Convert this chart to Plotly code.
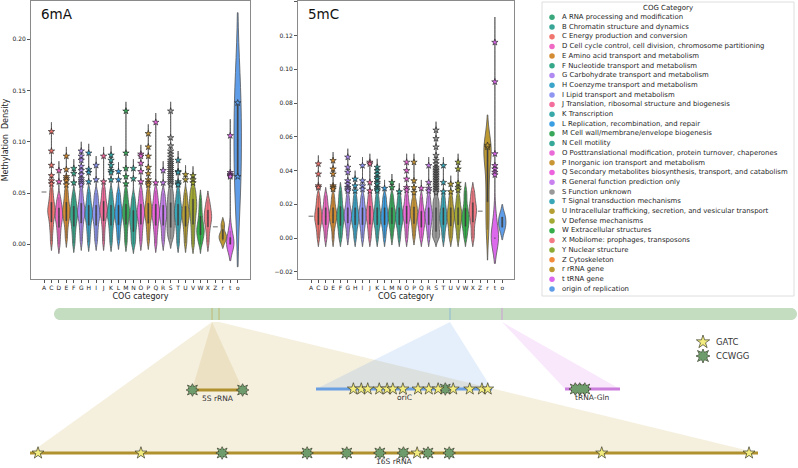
import plotly.graph_objects as go
import numpy as np

# ---------------------------------------------------------------- data
CATEGORIES = ["A", "C", "D", "E", "F", "G", "H", "I", "J", "K", "L", "M", "N", "O",
              "P", "Q", "R", "S", "T", "U", "V", "W", "X", "Z", "r", "t", "o"]

# 6mA: bulk of the distribution (kde sample) per category
BODY_6MA = [
    [0.051],
    [0.003, 0.012, 0.018, 0.023, 0.027, 0.030, 0.032, 0.034, 0.037, 0.040, 0.044, 0.049, 0.055],
    [0.0, 0.008, 0.014, 0.019, 0.023, 0.026, 0.028, 0.031, 0.034, 0.037, 0.041, 0.046],
    [0.006, 0.014, 0.020, 0.024, 0.027, 0.030, 0.032, 0.034, 0.037, 0.040, 0.044, 0.049, 0.054],
    [0.001, 0.009, 0.015, 0.020, 0.024, 0.027, 0.029, 0.032, 0.035, 0.039, 0.043, 0.049],
    [0.003, 0.011, 0.017, 0.022, 0.026, 0.029, 0.031, 0.033, 0.036, 0.039, 0.043, 0.048, 0.054],
    [0.002, 0.010, 0.016, 0.021, 0.025, 0.028, 0.030, 0.033, 0.036, 0.040, 0.045, 0.051],
    [0.003, 0.010, 0.016, 0.021, 0.025, 0.028, 0.030, 0.033, 0.036, 0.040, 0.045, 0.050],
    [0.003, 0.012, 0.019, 0.024, 0.028, 0.031, 0.033, 0.035, 0.038, 0.041, 0.045, 0.050, 0.055],
    [0.002, 0.010, 0.016, 0.021, 0.025, 0.028, 0.030, 0.033, 0.036, 0.040, 0.045, 0.051],
    [0.004, 0.011, 0.017, 0.021, 0.025, 0.028, 0.030, 0.033, 0.036, 0.040, 0.045, 0.050],
    [0.002, 0.010, 0.017, 0.022, 0.026, 0.029, 0.031, 0.034, 0.037, 0.041, 0.046, 0.052],
    [0.0, 0.005, 0.010, 0.015, 0.019, 0.022, 0.025, 0.028, 0.031, 0.035, 0.040, 0.046],
    [0.003, 0.011, 0.017, 0.022, 0.026, 0.029, 0.031, 0.034, 0.037, 0.041, 0.046, 0.052],
    [0.004, 0.012, 0.018, 0.023, 0.027, 0.030, 0.032, 0.035, 0.038, 0.042, 0.047, 0.053],
    [0.001, 0.010, 0.016, 0.021, 0.025, 0.028, 0.031, 0.034, 0.037, 0.041, 0.046, 0.052],
    [0.003, 0.010, 0.016, 0.021, 0.025, 0.028, 0.030, 0.033, 0.036, 0.040, 0.045, 0.050],
    [0.005, 0.008, 0.012, 0.015, 0.018, 0.021, 0.024, 0.027, 0.030, 0.033, 0.036, 0.039,
     0.042, 0.046, 0.050, 0.054],
    [0.001, 0.009, 0.016, 0.021, 0.025, 0.028, 0.031, 0.034, 0.037, 0.041, 0.046, 0.052],
    [0.001, 0.009, 0.015, 0.020, 0.024, 0.027, 0.029, 0.032, 0.035, 0.039, 0.044, 0.050],
    [0.0, 0.008, 0.015, 0.021, 0.026, 0.030, 0.034, 0.037, 0.040, 0.043, 0.047, 0.051, 0.055],
    [0.0, 0.004, 0.007, 0.010, 0.012, 0.014, 0.016, 0.019, 0.022, 0.026, 0.031, 0.037, 0.044],
    [0.002, 0.010, 0.016, 0.020, 0.023, 0.026, 0.028, 0.031, 0.034, 0.038, 0.043],
    [0.017],
    [0.003, 0.007, 0.010, 0.019],
    [0.0, 0.0, 0.0, 0.0, 0.0, 0.0, 0.013, 0.013],
    [0.066, 0.138],
]
# 6mA: highlighted genes (star markers)
STARS_6MA = [
    [],
    [0.110, 0.091, 0.077, 0.067, 0.062, 0.059],
    [0.072, 0.061],
    [0.086, 0.073, 0.066, 0.064, 0.062, 0.058],
    [0.074, 0.069, 0.060],
    [0.091, 0.086, 0.082, 0.076, 0.072, 0.068, 0.064, 0.062, 0.060, 0.058],
    [0.089, 0.073, 0.070, 0.061],
    [0.077, 0.063],
    [0.086, 0.061],
    [0.087, 0.082, 0.077, 0.072, 0.070, 0.063],
    [0.071, 0.063],
    [0.130, 0.089, 0.074, 0.066, 0.059],
    [0.074, 0.064],
    [0.088, 0.086, 0.079, 0.071, 0.061],
    [0.108, 0.095, 0.086, 0.075, 0.069, 0.063, 0.060, 0.058],
    [0.119, 0.060],
    [0.072, 0.060],
    [0.130, 0.104, 0.096, 0.091, 0.088, 0.085, 0.082, 0.080, 0.078, 0.076, 0.074, 0.072,
     0.070, 0.068, 0.066, 0.064, 0.062, 0.060, 0.058],
    [0.082, 0.071, 0.070, 0.061, 0.059, 0.058],
    [0.068, 0.063],
    [0.067, 0.063, 0.060],
    [],
    [],
    [],
    [],
    [0.106, 0.070, 0.068, 0.067, 0.066],
    [0.066, 0.138],
]

BODY_5MC = [
    [0.013],
    [0.0, 0.004, 0.007, 0.009, 0.011, 0.012, 0.0135, 0.015, 0.017, 0.019, 0.022, 0.025],
    [0.0, 0.004, 0.007, 0.009, 0.0105, 0.012, 0.0135, 0.015, 0.017, 0.019, 0.022, 0.025],
    [0.0, 0.005, 0.008, 0.010, 0.0115, 0.013, 0.014, 0.0155, 0.017, 0.019, 0.022, 0.025],
    [0.0, 0.003, 0.006, 0.008, 0.010, 0.0115, 0.013, 0.0145, 0.016, 0.018, 0.021, 0.024, 0.028],
    [0.001, 0.005, 0.008, 0.010, 0.0115, 0.013, 0.014, 0.0155, 0.017, 0.019, 0.022, 0.025],
    [0.0, 0.004, 0.007, 0.009, 0.0105, 0.012, 0.0135, 0.015, 0.017, 0.019, 0.022, 0.025],
    [0.0, 0.004, 0.007, 0.009, 0.011, 0.0125, 0.014, 0.0155, 0.017, 0.019, 0.022, 0.025],
    [0.0, 0.004, 0.007, 0.0095, 0.0115, 0.013, 0.0145, 0.016, 0.018, 0.020, 0.023, 0.026],
    [0.0, 0.004, 0.007, 0.009, 0.0105, 0.012, 0.0135, 0.015, 0.017, 0.019, 0.022, 0.025],
    [0.0, 0.004, 0.007, 0.009, 0.0105, 0.012, 0.0135, 0.015, 0.017, 0.019, 0.022, 0.025],
    [0.001, 0.005, 0.0075, 0.0095, 0.011, 0.0125, 0.014, 0.0155, 0.017, 0.019, 0.022, 0.025],
    [0.0, 0.004, 0.007, 0.009, 0.0105, 0.012, 0.0135, 0.015, 0.017, 0.019, 0.022, 0.025],
    [0.0, 0.004, 0.0075, 0.010, 0.012, 0.0135, 0.015, 0.0165, 0.018, 0.020, 0.023, 0.026],
    [0.001, 0.005, 0.008, 0.0105, 0.0125, 0.014, 0.0155, 0.017, 0.019, 0.021, 0.024],
    [0.0, 0.003, 0.0055, 0.0075, 0.009, 0.0105, 0.012, 0.0135, 0.015, 0.017, 0.020, 0.024],
    [0.0, 0.004, 0.007, 0.009, 0.011, 0.0125, 0.014, 0.0155, 0.017, 0.019, 0.022, 0.025],
    [0.0, 0.001, 0.002, 0.004, 0.006, 0.008, 0.010, 0.012, 0.014, 0.016, 0.018, 0.020, 0.022, 0.024],
    [0.0, 0.004, 0.007, 0.009, 0.0105, 0.012, 0.0135, 0.015, 0.017, 0.019, 0.022, 0.025],
    [0.0, 0.003, 0.006, 0.0085, 0.0105, 0.012, 0.0135, 0.015, 0.017, 0.019, 0.022, 0.025],
    [0.0, 0.004, 0.007, 0.009, 0.011, 0.0125, 0.014, 0.0155, 0.017, 0.019, 0.022, 0.025],
    [0.0, 0.003, 0.0055, 0.0075, 0.009, 0.0105, 0.012, 0.0135, 0.015, 0.017, 0.020, 0.024, 0.028],
    [0.0, 0.004, 0.008, 0.011, 0.013, 0.015, 0.0165, 0.018, 0.020, 0.022, 0.025, 0.028],
    [0.016],
    [0.005, 0.018, 0.032, 0.046, 0.052, 0.054, 0.055],
    [0.0, 0.0, 0.0, 0.0, 0.0, 0.0, 0.0, 0.0, 0.013, 0.013],
    [0.0065, 0.0125],
]
STARS_5MC = [
    [],
    [0.044, 0.038, 0.031, 0.030],
    [],
    [0.046, 0.041, 0.038, 0.031, 0.030, 0.029],
    [],
    [0.048, 0.042, 0.039, 0.034, 0.032, 0.030, 0.029, 0.028],
    [0.035, 0.031, 0.028],
    [0.043, 0.034, 0.031, 0.029],
    [0.045, 0.044, 0.033, 0.028],
    [0.042, 0.040, 0.038, 0.036, 0.035, 0.033, 0.032, 0.030, 0.029, 0.028],
    [0.0295],
    [0.033, 0.030],
    [0.0275],
    [0.045, 0.040, 0.035, 0.030, 0.0285],
    [0.045, 0.034, 0.030, 0.027],
    [0.0295],
    [0.043, 0.033, 0.0295, 0.028],
    [0.064, 0.059, 0.054, 0.049, 0.046, 0.044, 0.042, 0.041, 0.040, 0.039, 0.038, 0.037,
     0.036, 0.035, 0.034, 0.033, 0.032, 0.031, 0.030, 0.029, 0.028, 0.027],
    [0.043, 0.033, 0.0275],
    [0.032, 0.0275],
    [0.045, 0.041, 0.0325, 0.030, 0.0285],
    [],
    [],
    [],
    [0.054, 0.055],
    [0.116, 0.0926, 0.050, 0.043, 0.041, 0.039, 0.0375],
    [],
]

LEGEND_LABELS = [
    "A RNA processing and modification",
    "B Chromatin structure and dynamics",
    "C Energy production and conversion",
    "D Cell cycle control, cell division, chromosome partitioning",
    "E Amino acid transport and metabolism",
    "F Nucleotide transport and metabolism",
    "G Carbohydrate transport and metabolism",
    "H Coenzyme transport and metabolism",
    "I Lipid transport and metabolism",
    "J Translation, ribosomal structure and biogenesis",
    "K Transcription",
    "L Replication, recombination, and repair",
    "M Cell wall/membrane/envelope biogenesis",
    "N Cell motility",
    "O Posttranslational modification, protein turnover, chaperones",
    "P Inorganic ion transport and metabolism",
    "Q Secondary metabolites biosynthesis, transport, and catabolism",
    "R General function prediction only",
    "S Function unknown",
    "T Signal transduction mechanisms",
    "U Intracellular trafficking, secretion, and vesicular transport",
    "V Defense mechanisms",
    "W Extracellular structures",
    "X Mobilome: prophages, transposons",
    "Y Nuclear structure",
    "Z Cytoskeleton",
    "r rRNA gene",
    "t tRNA gene",
    "origin of replication",
]
LEGEND_COLORS = [
    "#3aa87c", "#39a596", "#f0756f", "#f06ac4", "#d38b34", "#36a88a", "#b08af2",
    "#3aa5c8", "#8e96f2", "#f36d9d", "#38a8a8", "#3a9fe2", "#38a95a", "#36a897",
    "#ea6ad8", "#c99636", "#ed62dd", "#c981f0", "#999999", "#39a7b7", "#b59e33",
    "#a2a934", "#34ad4a", "#f37b86", "#8cab36", "#f38b3c", "#be9a33", "#dc68ec",
    "#5f9de8",
]

# genome schematic
FEATURES = ["5S rRNA", "16S rRNA", "oriC", "tRNA-Gln"]
FEATURE_CODE = ["r", "r", "o", "t"]
FEATURE_LEN_BP = [120, 1542, 245, 75]
FEATURE_CHROM_START = [0.2127, 0.2127, 0.533, 0.603]   # fraction of chromosome
FEATURE_CHROM_END = [0.2127, 0.2221, 0.533, 0.603]
GATC_SITES = [
    [],
    [17, 235, 820, 1211, 1523],
    [52, 63, 72, 88, 99, 107, 121, 142, 157, 170, 191, 214, 231, 239],
    [],
]
CCWGG_SITES = [
    [1, 119],
    [407, 587, 671, 741, 791, 843, 888],
    [180],
    [14, 20, 27],
]

# ---------------------------------------------------------------- style / layout
W, H = 798, 468
FONT = "DejaVu Sans"
EDGE = "#555555"
BW_6MA, BW_6MA_OVR = 0.0045, {"r": 0.0035, "t": 0.008, "o": 0.044}
BW_5MC, BW_5MC_OVR = 0.0025, {"r": 0.009, "t": 0.0075, "o": 0.0037}

code_color = {}
for lab, col in zip(LEGEND_LABELS, LEGEND_COLORS):
    first = lab.split()[0]
    code_color[first if len(first) == 1 else "o"] = col

fig = go.Figure()


def add_panel(body, stars, xa, ya, bw_def, bw_ovr):
    for i, cat in enumerate(CATEGORIES):
        b, s, col = body[i], stars[i], code_color[cat]
        if len(b) == 1 and not s:
            fig.add_trace(go.Scatter(x=[i - 0.33, i + 0.33], y=[b[0], b[0]], mode="lines",
                                     line=dict(color="#444444", width=0.8),
                                     xaxis=xa, yaxis=ya, hoverinfo="skip", showlegend=False))
            continue
        bw = bw_ovr.get(cat, bw_def)
        allv = b + s
        lo, hi = min(allv) - 2 * bw, max(allv) + 2 * bw
        fig.add_trace(go.Violin(
            x=[i] * len(b), y=b, bandwidth=bw, spanmode="manual", span=[lo, hi],
            scalemode="width", width=1.0, fillcolor=col, opacity=1,
            line=dict(color=EDGE, width=0.8), points=False,
            box=dict(visible=True, width=0.16, fillcolor="#404040",
                     line=dict(color="#404040", width=0.4)),
            meanline=dict(visible=False),
            xaxis=xa, yaxis=ya, hoverinfo="skip", showlegend=False))
        if s:
            fig.add_trace(go.Scatter(
                x=[i] * len(s), y=s, mode="markers",
                marker=dict(symbol="star", size=4.8, color=col,
                            line=dict(color="#1e1e1e", width=0.6)),
                xaxis=xa, yaxis=ya, hoverinfo="skip", showlegend=False))


add_panel(BODY_6MA, STARS_6MA, "x", "y", BW_6MA, BW_6MA_OVR)
add_panel(BODY_5MC, STARS_5MC, "x2", "y2", BW_5MC, BW_5MC_OVR)

# ---------------------------------------------------------------- overlay (pixel space)
shapes = []
annotations = []

# COG legend
LEG_X0, LEG_X1, LEG_Y0, LEG_Y1 = 542, 794, 2, 296
ROW0, ROW_H = 17.3, 9.7
shapes.append(dict(type="rect", xref="x3", yref="y3", x0=LEG_X0, x1=LEG_X1, y0=LEG_Y0, y1=LEG_Y1,
                   line=dict(color="#d6d6d6", width=0.8), fillcolor="white", layer="below"))
ly = [ROW0 + k * ROW_H for k in range(len(LEGEND_LABELS))]
fig.add_trace(go.Scatter(x=[552] * len(ly), y=ly, mode="markers",
                         marker=dict(symbol="circle", size=5.5, color=LEGEND_COLORS, line=dict(width=0)),
                         xaxis="x3", yaxis="y3", hoverinfo="skip", showlegend=False))
fig.add_trace(go.Scatter(x=[562] * len(ly), y=ly, mode="text", text=LEGEND_LABELS,
                         textposition="middle right",
                         textfont=dict(family=FONT, size=6.9, color="#262626"),
                         xaxis="x3", yaxis="y3", hoverinfo="skip", showlegend=False))
annotations.append(dict(xref="x3", yref="y3", x=(LEG_X0 + LEG_X1) / 2, y=8, text="COG Category",
                        showarrow=False, font=dict(family=FONT, size=7, color="#262626")))

# panel labels
annotations.append(dict(xref="x3", yref="y3", x=39, y=14, xanchor="left", text="6mA", showarrow=False,
                        font=dict(family=FONT, size=13.5, color="#111")))
annotations.append(dict(xref="x3", yref="y3", x=306, y=14, xanchor="left", text="5mC", showarrow=False,
                        font=dict(family=FONT, size=13.5, color="#111")))

# chromosome
CX0, CX1, CY, CH = 54, 797, 314, 12
r = CH / 2
k = 0.5523 * r
path = (f"M {CX0 + r},{CY - r} L {CX1 - r},{CY - r} "
        f"C {CX1 - r + k},{CY - r} {CX1},{CY - k} {CX1},{CY} "
        f"C {CX1},{CY + k} {CX1 - r + k},{CY + r} {CX1 - r},{CY + r} "
        f"L {CX0 + r},{CY + r} "
        f"C {CX0 + r - k},{CY + r} {CX0},{CY + k} {CX0},{CY} "
        f"C {CX0},{CY - k} {CX0 + r - k},{CY - r} {CX0 + r},{CY - r} Z")

ZOOM_X = [(192, 243), (30, 758), (316, 492), (565, 620)]
ZOOM_Y = [390, 453, 389, 389]
FAN_TOP = CY + r + 2


def chrom_px(f):
    return CX0 + f * (CX1 - CX0)


def hex_rgba(h, a):
    h = h.lstrip("#")
    return f"rgba({int(h[0:2], 16)},{int(h[2:4], 16)},{int(h[4:6], 16)},{a})"


# fans (big 16S first)
for j in [1, 0, 2, 3]:
    col = code_color[FEATURE_CODE[j]]
    a0, a1 = chrom_px(FEATURE_CHROM_START[j]), chrom_px(FEATURE_CHROM_END[j])
    z0, z1 = ZOOM_X[j]
    zy = ZOOM_Y[j]
    shapes.append(dict(type="path", xref="x3", yref="y3",
                       path=f"M {a0},{FAN_TOP} L {a1},{FAN_TOP} L {z1},{zy} L {z0},{zy} Z",
                       fillcolor=hex_rgba(col, 0.16), line=dict(width=0), layer="below"))

shapes.append(dict(type="path", xref="x3", yref="y3", path=path, fillcolor="#c4dcc0",
                   line=dict(width=0), layer="below"))
marks = set()
for j in range(len(FEATURES)):
    for f in (FEATURE_CHROM_START[j], FEATURE_CHROM_END[j]):
        marks.add((round(chrom_px(f), 2), FEATURE_CODE[j]))
for mx, code in marks:
    shapes.append(dict(type="line", xref="x3", yref="y3", x0=mx, x1=mx, y0=CY - r, y1=CY + r,
                       line=dict(color=hex_rgba(code_color[code], 0.55), width=1), layer="below"))

LINE_COLORS = {"r": "#b0912f", "o": "#6a9fe2", "t": "#cc7fdc"}
GATC_FILL, CCWGG_FILL, SITE_EDGE = "#f3ec7e", "#6f9c6c", "#3c3c2c"


def add_8star(xs, ys, size):
    for sym in ("star-square", "star-diamond"):
        fig.add_trace(go.Scatter(x=xs, y=ys, mode="markers",
                                 marker=dict(symbol=sym, size=size, color=CCWGG_FILL,
                                             line=dict(color=SITE_EDGE, width=0.7)),
                                 xaxis="x3", yaxis="y3", hoverinfo="skip", showlegend=False))
    for sym in ("star-square", "star-diamond"):
        fig.add_trace(go.Scatter(x=xs, y=ys, mode="markers",
                                 marker=dict(symbol=sym, size=size - 1.2, color=CCWGG_FILL,
                                             line=dict(width=0)),
                                 xaxis="x3", yaxis="y3", hoverinfo="skip", showlegend=False))


for j, name in enumerate(FEATURES):
    z0, z1 = ZOOM_X[j]
    zy = ZOOM_Y[j]
    L = FEATURE_LEN_BP[j]
    fig.add_trace(go.Scatter(x=[z0, z1], y=[zy, zy], mode="lines",
                             line=dict(color=LINE_COLORS[FEATURE_CODE[j]], width=3.2),
                             xaxis="x3", yaxis="y3", hoverinfo="skip", showlegend=False))
    gx = [z0 + p / L * (z1 - z0) for p in GATC_SITES[j]]
    cx = [z0 + p / L * (z1 - z0) for p in CCWGG_SITES[j]]
    if cx:
        add_8star(cx, [zy] * len(cx), 9)
    if gx:
        fig.add_trace(go.Scatter(x=gx, y=[zy] * len(gx), mode="markers",
                                 marker=dict(symbol="star", size=9, color=GATC_FILL,
                                             line=dict(color=SITE_EDGE, width=0.7)),
                                 xaxis="x3", yaxis="y3", hoverinfo="skip", showlegend=False))
    annotations.append(dict(xref="x3", yref="y3", x=(z0 + z1) / 2, y=zy + 8.5, text=name,
                            showarrow=False, font=dict(family=FONT, size=7.5, color="#333")))

# site legend
fig.add_trace(go.Scatter(x=[703], y=[342], mode="markers",
                         marker=dict(symbol="star", size=10, color=GATC_FILL,
                                     line=dict(color=SITE_EDGE, width=0.7)),
                         xaxis="x3", yaxis="y3", hoverinfo="skip", showlegend=False))
add_8star([703], [356], 10)
for txt, yy in (("GATC", 342), ("CCWGG", 356)):
    annotations.append(dict(xref="x3", yref="y3", x=714, y=yy, xanchor="left", text=txt,
                            showarrow=False, font=dict(family=FONT, size=8.5, color="#333")))

# ---------------------------------------------------------------- axes
def fy(px):
    return 1 - px / H


common_x = dict(showline=True, mirror=True, linecolor="#8a8a8a", linewidth=1, showgrid=False,
                zeroline=False, ticks="outside", ticklen=3, tickcolor="#555", tickwidth=0.8,
                tickvals=list(range(len(CATEGORIES))), ticktext=CATEGORIES, tickangle=0,
                tickfont=dict(family=FONT, size=6, color="#222"),
                title=dict(text="COG category", font=dict(family=FONT, size=8, color="#222"), standoff=2),
                fixedrange=True)
common_y = dict(showline=True, mirror=True, linecolor="#8a8a8a", linewidth=1, showgrid=False,
                zeroline=False, ticks="outside", ticklen=3, tickcolor="#555", tickwidth=0.8,
                tickfont=dict(family=FONT, size=6, color="#222"), tickformat=".2f", fixedrange=True)

fig.update_layout(
    width=W, height=H, margin=dict(l=0, r=0, t=0, b=0),
    paper_bgcolor="white", plot_bgcolor="rgba(0,0,0,0)",
    violinmode="overlay", showlegend=False,
    font=dict(family=FONT),
    xaxis=dict(common_x, domain=[31 / W, 250 / W], range=[-1.745, 27.65], anchor="y"),
    yaxis=dict(common_y, domain=[fy(279), fy(1)], range=[-0.0339, 0.2374], anchor="x",
               tickvals=[0.0, 0.05, 0.10, 0.15, 0.20],
               title=dict(text="Methylation  Density", font=dict(family=FONT, size=8, color="#222"),
                          standoff=2)),
    xaxis2=dict(common_x, domain=[298 / W, 514 / W], range=[-1.77, 27.6], anchor="y2"),
    yaxis2=dict(common_y, domain=[fy(279), fy(1)], range=[-0.0242, 0.1405], anchor="x2",
                tickvals=[-0.02, 0.0, 0.02, 0.04, 0.06, 0.08, 0.10, 0.12, 0.14]),
    xaxis3=dict(domain=[0, 1], range=[0, W], visible=False, anchor="y3", fixedrange=True),
    yaxis3=dict(domain=[0, 1], range=[H, 0], visible=False, anchor="x3", fixedrange=True),
    shapes=shapes, annotations=annotations,
)

fig.write_html("out.html", config={"displayModeBar": False},
               post_script="document.body.style.margin='0px';document.body.style.overflow='hidden';")
